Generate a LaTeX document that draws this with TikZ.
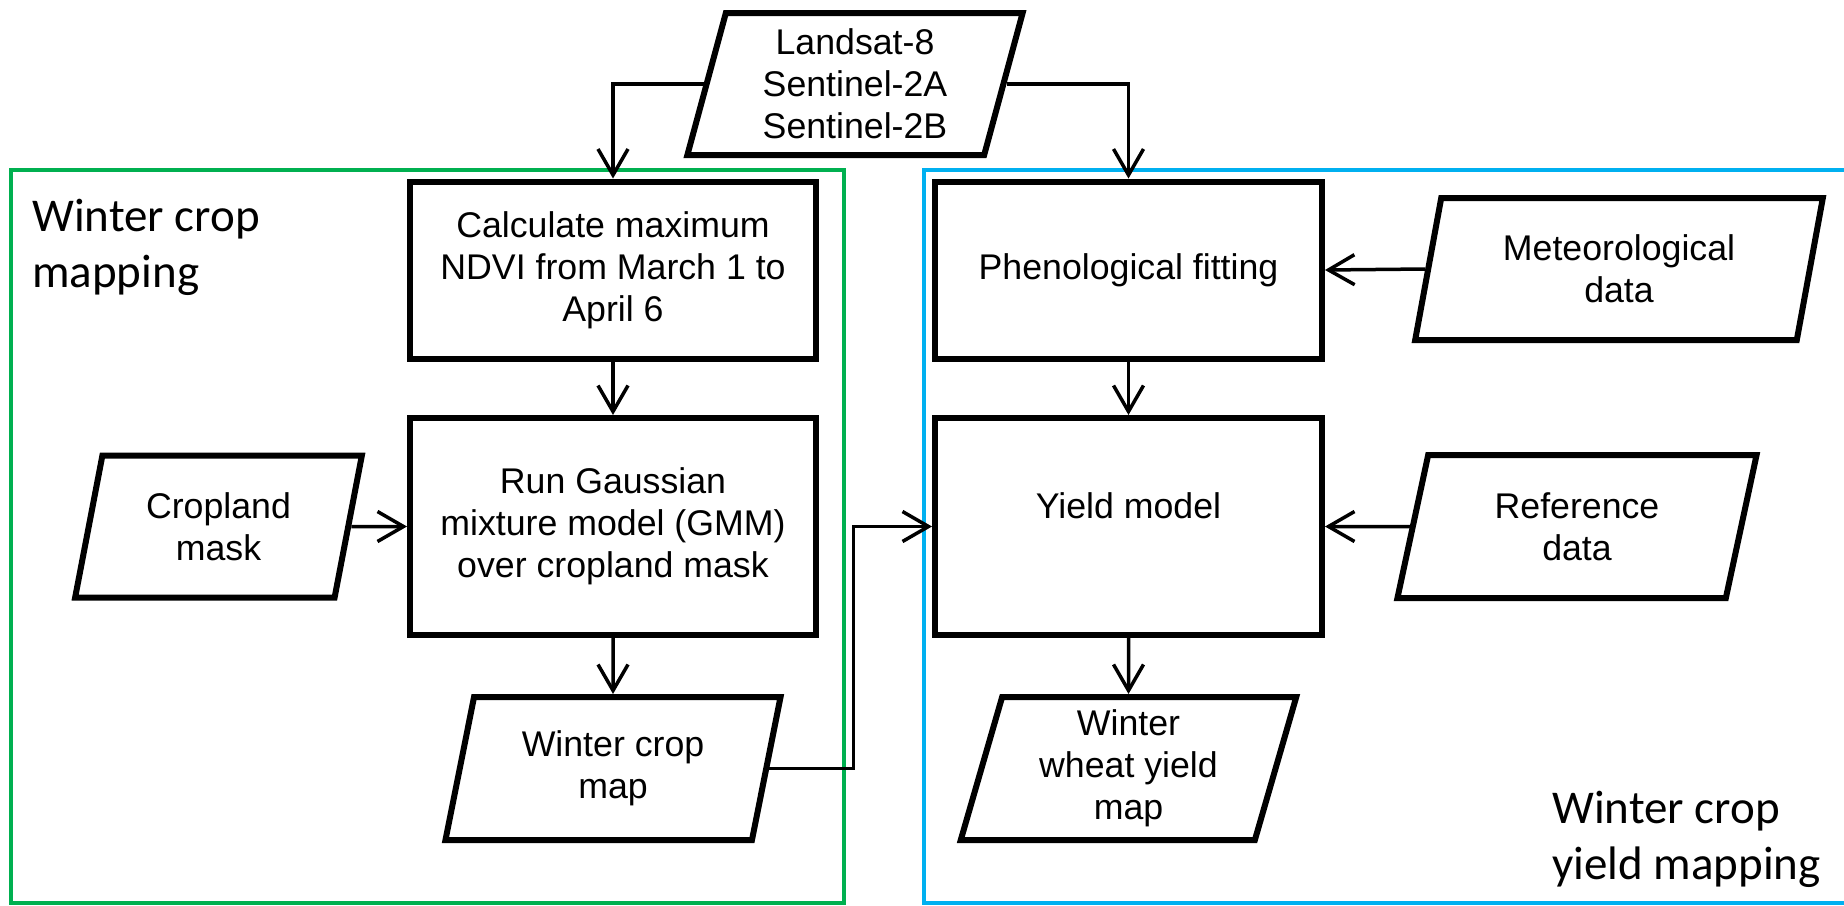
\documentclass[tikz,border=0pt]{standalone}
\usepackage{fontspec}
\setmainfont{Liberation Sans}
\newfontfamily\calib{Carlito}
\usetikzlibrary{shapes.geometric,arrows.meta}
\definecolor{grn}{RGB}{0,176,80}
\definecolor{blu}{RGB}{0,176,240}
\begin{document}
\begin{tikzpicture}[x=1pt,y=-1pt,
  every node/.style={font=\fontsize{35.7}{42}\selectfont,align=center,inner sep=0pt},
  box/.style={draw,line width=6pt,rectangle,fill=white},
  para/.style={draw,line width=6pt,fill=white,trapezium,trapezium left angle=76,trapezium right angle=104,trapezium stretches=true},
  frame/.style={line width=4.5pt},
  arr/.style={line width=3.5pt,-{Straight Barb[length=26pt,width=30pt]}},
  lab/.style={font=\calib\fontsize{47}{56}\selectfont,align=left,anchor=base west}
]
\useasboundingbox (0,0) rectangle (1844,905);
% group frames
\draw[frame,grn] (10.8,170) rectangle (844,903);
\draw[frame,blu] (924,170) rectangle (1860,903);
% nodes
\node[para,minimum width=336pt,minimum height=142pt] (land) at (855,84) {Landsat-8\\Sentinel-2A\\Sentinel-2B};
\node[box,minimum width=406pt,minimum height=177pt] (calc) at (613,270) {Calculate maximum\\NDVI from March 1 to\\April 6};
\node[box,minimum width=406pt,minimum height=217pt] (run) at (613,526.5) {Run Gaussian\\mixture model (GMM)\\over cropland mask};
\node[para,minimum width=287pt,minimum height=142pt] (crop) at (218.5,526.5) {Cropland\\mask};
\node[para,minimum width=336pt,minimum height=143pt] (wcm) at (613,768.5) {Winter crop\\map};
\node[box,minimum width=387pt,minimum height=177pt] (phen) at (1128.5,270) {Phenological fitting};
\node[box,minimum width=387pt,minimum height=217pt] (yield) at (1128.5,526.5) {Yield model\\\mbox{}};
\node[para,minimum width=408pt,minimum height=142pt] (met) at (1619,269) {Meteorological\\data};
\node[para,minimum width=360pt,minimum height=143pt] (ref) at (1577,526.5) {Reference\\data};
\node[para,minimum width=336pt,minimum height=143pt] (wheat) at (1128.5,768.5) {Winter\\wheat yield\\map};
% labels
\node[lab] (labA) at (32,287) {Winter crop\\mapping};
\node[lab] (labB) at (1552,879) {Winter crop\\yield mapping};
% connectors
\draw[arr] (land.west) -| (calc.north);
\draw[arr] (land.east) -| (phen.north);
\draw[arr] (calc.south) -- (run.north);
\draw[arr] (crop.east) -- (run.west);
\draw[arr] (run.south) -- (wcm.north);
\draw[arr] (wcm.east) -- ++(84,0) |- (yield.west);
\draw[arr] (met.west) -- (phen.east);
\draw[arr] (phen.south) -- (yield.north);
\draw[arr] (ref.west) -- (yield.east);
\draw[arr] (yield.south) -- (wheat.north);
\end{tikzpicture}
\end{document}
